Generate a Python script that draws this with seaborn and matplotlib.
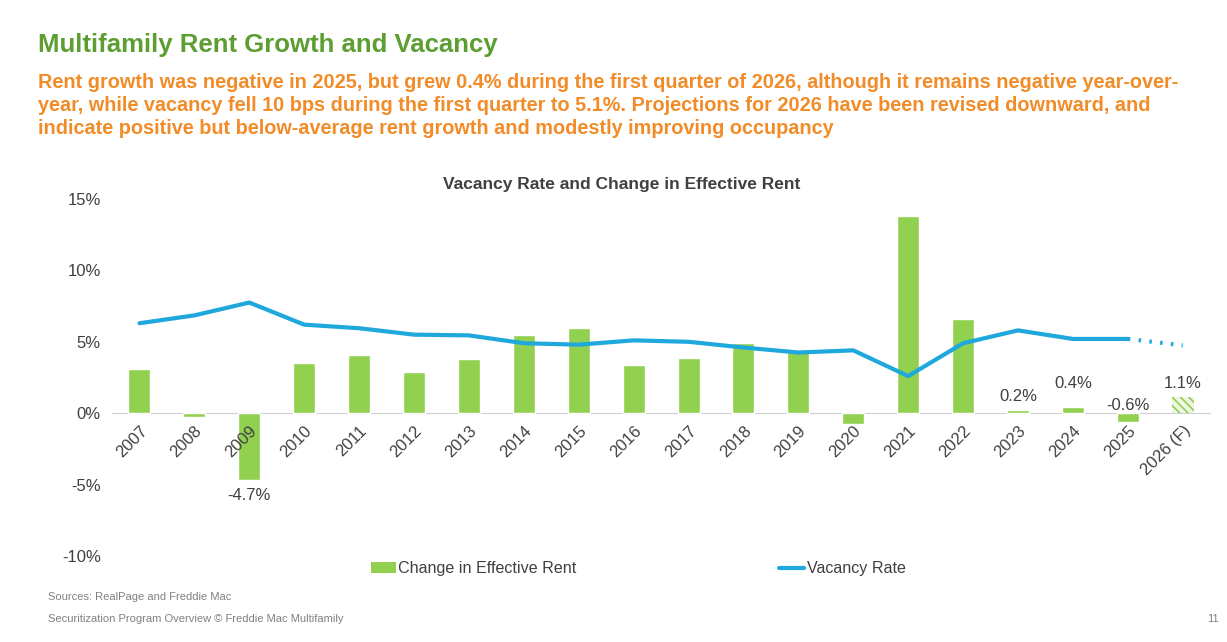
import numpy as np
import pandas as pd
import matplotlib
matplotlib.use('Agg')
import matplotlib.pyplot as plt
import seaborn as sns
from matplotlib.patches import Patch
from matplotlib.lines import Line2D

# data
years = ['2007', '2008', '2009', '2010', '2011', '2012', '2013', '2014', '2015', '2016',
         '2017', '2018', '2019', '2020', '2021', '2022', '2023', '2024', '2025', '2026 (F)']
rent_change = [3.1, -0.3, -4.7, 3.5, 4.1, 2.9, 3.8, 5.5, 6.0, 3.4,
               3.9, 4.9, 4.3, -0.75, 13.8, 6.6, 0.2, 0.4, -0.6, 1.1]
vacancy = [6.3, 6.85, 7.75, 6.2, 5.95, 5.5, 5.45, 4.9, 4.8, 5.1,
           5.0, 4.6, 4.25, 4.4, 2.6, 4.9, 5.8, 5.2, 5.2, 4.75]
# labelled bars and where their labels sit (y, in %)
label_years = ['2009', '2023', '2024', '2025', '2026 (F)']
label_text = ['-4.7%', '0.2%', '0.4%', '-0.6%', '1.1%']
label_y = [-5.75, 1.2, 2.05, 0.55, 2.1]

subtitle_lines = [
    'Rent growth was negative in 2025, but grew 0.4% during the first quarter of 2026, although it remains negative year-over-',
    'year, while vacancy fell 10 bps during the first quarter to 5.1%. Projections for 2026 have been revised downward, and',
    'indicate positive but below-average rent growth and modestly improving occupancy',
]

green = '#92d050'
blue = '#1fa8dc'
grey = '#404040'

sns.set_style('white')
plt.rcParams['font.family'] = ['Liberation Sans', 'DejaVu Sans']
plt.rcParams['hatch.linewidth'] = 1.2

df = pd.DataFrame({'Year': years, 'Rent': rent_change})

fig = plt.figure(figsize=(12.27, 6.42), dpi=100)
ax = fig.add_axes([0.0913, 0.134, 0.895, 0.556])

sns.barplot(data=df, x='Year', y='Rent', color=green, width=0.4, saturation=1, ax=ax)

# forecast bar is hatched
fc = ax.patches[-1]
fc.set_facecolor('#eef7e4')
fc.set_edgecolor(green)
fc.set_hatch('\\\\\\\\')
fc.set_linewidth(0)

idx = np.arange(len(years))
sns.lineplot(x=idx[:19], y=vacancy[:19], color=blue, linewidth=3, ax=ax)
sns.lineplot(x=idx[18:], y=vacancy[18:], color=blue, linewidth=3, linestyle=(0, (0.6, 2.0)), ax=ax)

for yr, txt, ly in zip(label_years, label_text, label_y):
    ax.text(years.index(yr), ly, txt, ha='center', va='center', fontsize=12, color=grey)

ax.set_axisbelow(False)
ax.set_ylim(-10, 15)
ax.set_xlim(-0.5, len(years) - 0.5)
ax.set_yticks([-10, -5, 0, 5, 10, 15])
ax.set_yticklabels(['-10%', '-5%', '0%', '5%', '10%', '15%'])
ax.set_xlabel('')
ax.set_ylabel('')
for s in ['top', 'right', 'left']:
    ax.spines[s].set_visible(False)
ax.spines['bottom'].set_position(('data', 0))
ax.spines['bottom'].set_color('#d0d0d0')
ax.spines['bottom'].set_zorder(0.5)
ax.tick_params(axis='y', length=0, labelsize=12, labelcolor=grey, pad=8)
ax.tick_params(axis='x', length=0, labelsize=12, labelcolor=grey, pad=7)
for lab in ax.get_xticklabels():
    lab.set_rotation(45)
    lab.set_ha('right')
    lab.set_rotation_mode('anchor')

fig.text(0.507, 0.713, 'Vacancy Rate and Change in Effective Rent', fontsize=12.5, fontweight='bold',
         color=grey, ha='center', va='center')

handles = [Patch(facecolor=green, edgecolor='none'), Line2D([0], [0], color=blue, lw=3)]
fig.legend(handles, ['Change in Effective Rent', 'Vacancy Rate'], loc='center',
           bbox_to_anchor=(0.52, 0.114), ncol=2, frameon=False, fontsize=11.6,
           handlelength=1.55, handletextpad=0.15, columnspacing=12.6, labelcolor=grey)

fig.text(0.031, 0.93, 'Multifamily Rent Growth and Vacancy', fontsize=18.5, fontweight='bold',
         color='#5c9e31', va='center')
for k, line in enumerate(subtitle_lines):
    fig.text(0.031, 0.871 - k * 0.0355, line, fontsize=14.3, fontweight='bold',
             color='#f28c28', va='center')

fig.text(0.039, 0.07, 'Sources: RealPage and Freddie Mac', fontsize=8, color='#808080', va='center')
fig.text(0.039, 0.036, 'Securitization Program Overview \u00a9 Freddie Mac Multifamily', fontsize=8,
         color='#808080', va='center')
fig.text(0.993, 0.036, '11', fontsize=8, color='#808080', va='center', ha='right')

fig.savefig('out.png', dpi=100)
